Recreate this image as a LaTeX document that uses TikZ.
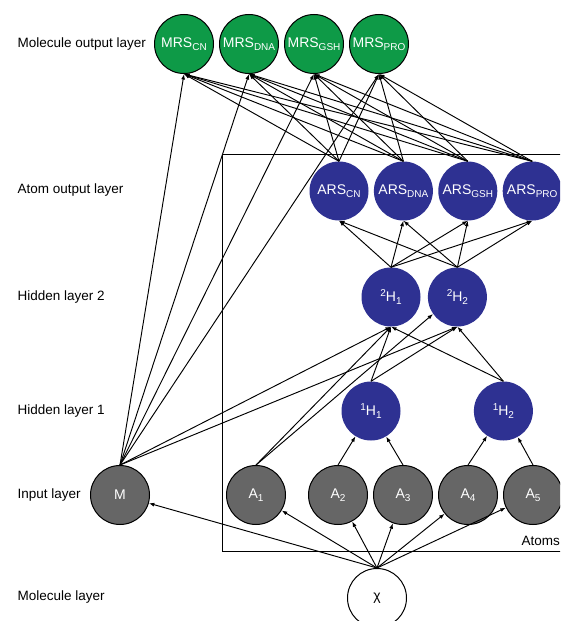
\documentclass[tikz,border=0pt]{standalone}
\usepackage{fontspec}
\setmainfont{Liberation Sans}
\usetikzlibrary{arrows.meta,positioning}
\definecolor{mc}{HTML}{0E9A47}
\definecolor{ac}{HTML}{2E3192}
\definecolor{ic}{HTML}{666666}
\newcommand{\lo}[1]{\raisebox{-0.35ex}{\fontsize{10}{10}\selectfont #1}}
\newcommand{\hi}[1]{\raisebox{0.75ex}{\fontsize{10}{10}\selectfont #1}}

\begin{document}
\begin{tikzpicture}[
    x=1pt, y=-1pt,
    node distance=5pt and 5pt,
    unit/.style={circle, minimum size=59pt, inner sep=0pt, text=white,
                 font=\fontsize{14}{15}\selectfont},
    mol/.style={unit, fill=mc, draw=black, line width=1pt},
    atm/.style={unit, fill=ac},
    inp/.style={unit, fill=ic, draw=black, line width=1pt},
    chin/.style={unit, fill=white, draw=black, text=black, line width=1pt},
    ar/.style={-{Latex[length=5.5pt,width=4pt]}, line width=0.95pt},
    lab/.style={anchor=west, font=\fontsize{13.5}{15}\selectfont}
]
\useasboundingbox (0,0) rectangle (560,621);
\clip (0,0) rectangle (560,621);

% layer names
\node[lab] (lmo)  at (14,44)  {Molecule output layer};
\node[lab] (lao)  at (14,190) {Atom output layer};
\node[lab] (lh2)  at (14,297) {Hidden layer 2};
\node[lab] (lh1)  at (14,411) {Hidden layer 1};
\node[lab] (lin)  at (14,495) {Input layer};
\node[lab] (lml)  at (14,597) {Molecule layer};

% atoms frame
\draw[line width=1pt] (222,154) rectangle (590,551);
\node[lab] (atoms) at (518,541) {Atoms};

% molecule output
\node[mol] (mcn) at (184,44) {MRS\lo{CN}};
\node[mol, right=of mcn]  (mdna) {MRS\lo{DNA}};
\node[mol, right=of mdna] (mgsh) {MRS\lo{GSH}};
\node[mol, right=of mgsh] (mpro) {MRS\lo{PRO}};

% atom output
\node[atm] (acn) at (339,191) {ARS\lo{CN}};
\node[atm, right=of acn]  (adna) {ARS\lo{DNA}};
\node[atm, right=of adna] (agsh) {ARS\lo{GSH}};
\node[atm, right=of agsh] (apro) {ARS\lo{PRO}};

% hidden layers
\node[atm] (h21) at (391,297) {\hi{2}H\lo{1}};
\node[atm, right=7pt of h21] (h22) {\hi{2}H\lo{2}};
\node[atm] (h11) at (371,411) {\hi{1}H\lo{1}};
\node[atm, right=73pt of h11] (h12) {\hi{1}H\lo{2}};

% input
\node[inp] (m)  at (120,495) {M};
\node[inp] (a1) at (256,495) {A\lo{1}};
\node[inp, right=22pt of a1] (a2) {A\lo{2}};
\node[inp, right=of a2] (a3) {A\lo{3}};
\node[inp, right=of a3] (a4) {A\lo{4}};
\node[inp, right=of a4] (a5) {A\lo{5}};

% molecule
\node[chin] (chi) at (377,598) {χ};

\foreach \t in {m,a1,a2,a3,a4,a5}
    \draw[ar] (chi.north) -- (\t);
\draw[ar] (a2.north) -- (h11);
\draw[ar] (a3.north) -- (h11);
\draw[ar] (a4.north) -- (h12);
\draw[ar] (a5.north) -- (h12);
\draw[ar] (a1.north) -- (h21.south);
\draw[ar] (a1.north) -- (h22.215);
\foreach \s in {m,h11,h12}
    \foreach \t in {h21,h22}
        \draw[ar] (\s.north) -- (\t.south);
\foreach \s in {h21,h22}
    \foreach \t in {acn,adna,agsh,apro}
        \draw[ar] (\s.north) -- (\t.south);
\foreach \s in {m,acn,adna,agsh,apro}
    \foreach \t in {mcn,mdna,mgsh,mpro}
        \draw[ar] (\s.north) -- (\t.south);
\end{tikzpicture}
\end{document}
